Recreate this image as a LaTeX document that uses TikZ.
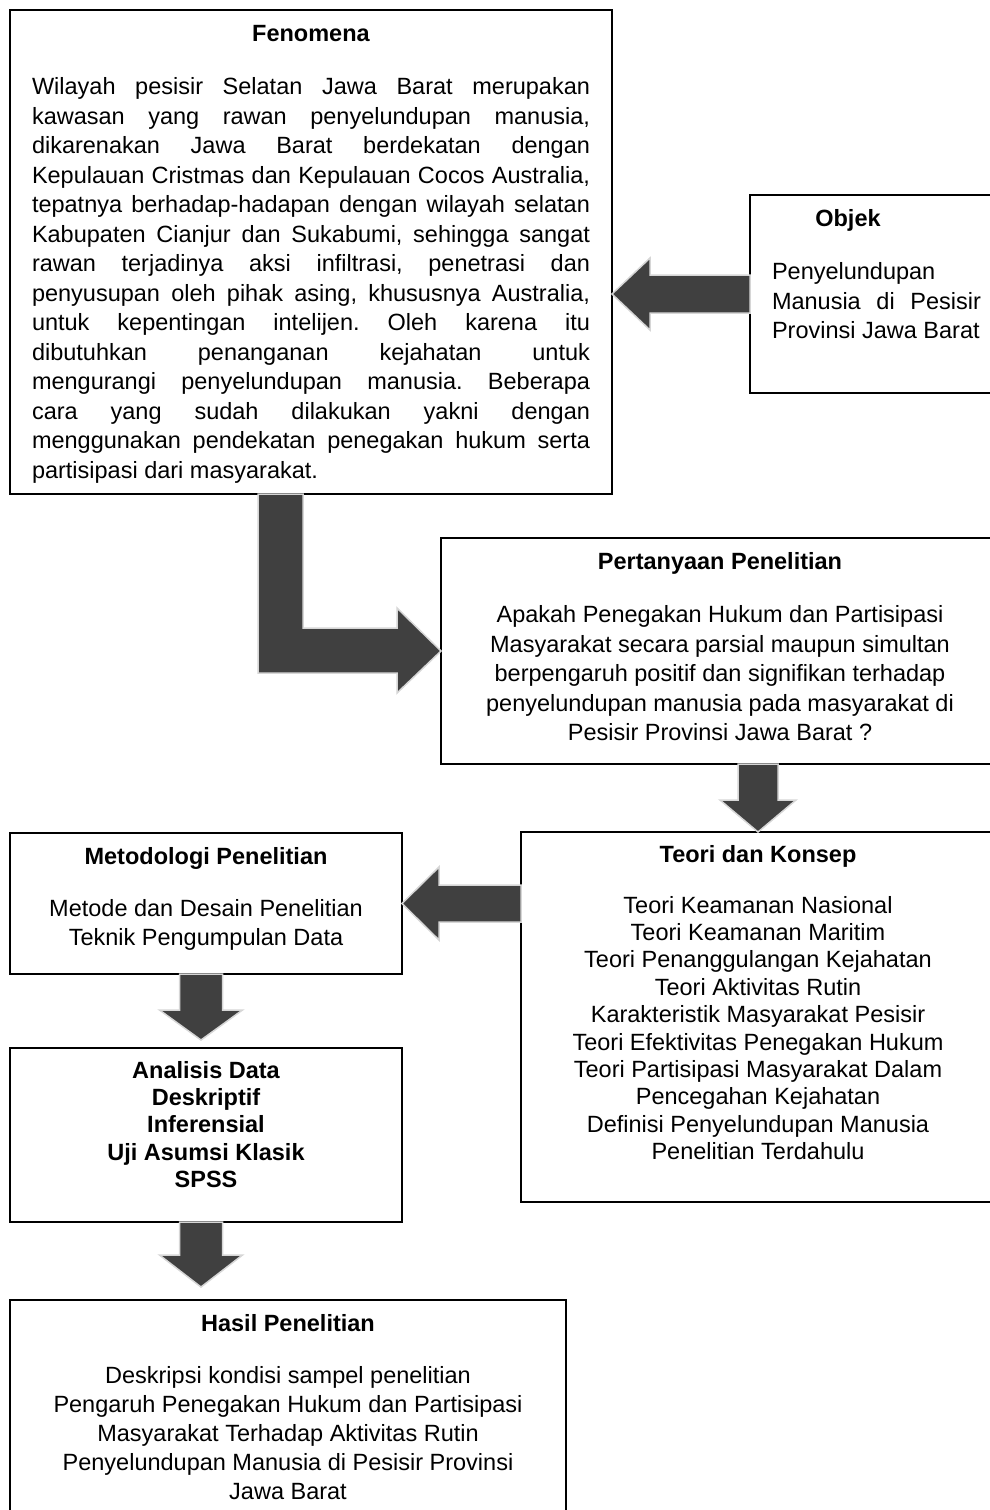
\documentclass[tikz,border=0pt]{standalone}
\usepackage{fontspec}
\setmainfont{Liberation Sans}
\usetikzlibrary{calc}
\definecolor{panahisi}{HTML}{404040}
\definecolor{panahtepi}{HTML}{D6D6D6}
% isi kotak: lebar teks, tinggi, judul, isi
\newcommand{\isikotak}[4]{\parbox[c][#2][t]{#1}{{\centering\strut\textbf{#3}\par}\vspace{23.5pt}#4}}
\frenchspacing

\begin{document}
\begin{tikzpicture}[x=1pt, y=-1pt,
  kotak/.style={draw, line width=2.8pt, inner xsep=0pt, inner ysep=11pt, outer sep=0pt,
    anchor=north west, font=\fontsize{23.5}{29.5}\selectfont},
  panah/.style={fill=panahisi, draw=panahtepi, line width=1.5pt, line join=miter}]
  \path[use as bounding box] (0,0) rectangle (990,1510);
  \clip (0,0) rectangle (990,1510);

  \node[kotak, minimum width=602pt] (fen) at (10,10) {\isikotak{558pt}{462pt}{Fenomena}{%
    \tolerance=10000 \hbadness=10000 \hyphenpenalty=10000
    Wilayah pesisir Selatan Jawa Barat merupakan\linebreak
    kawasan yang rawan penyelundupan manusia,\linebreak
    dikarenakan Jawa Barat berdekatan dengan\linebreak
    Kepulauan Cristmas dan Kepulauan Cocos Australia,\linebreak
    tepatnya berhadap-hadapan dengan wilayah selatan\linebreak
    Kabupaten Cianjur dan Sukabumi, sehingga sangat\linebreak
    rawan terjadinya aksi infiltrasi, penetrasi dan\linebreak
    penyusupan oleh pihak asing, khususnya Australia,\linebreak
    untuk kepentingan intelijen. Oleh karena itu\linebreak
    dibutuhkan penanganan kejahatan untuk\linebreak
    mengurangi penyelundupan manusia. Beberapa\linebreak
    cara yang sudah dilakukan yakni dengan\linebreak
    menggunakan pendekatan penegakan hukum serta\linebreak
    partisipasi dari masyarakat.}};
  \node[kotak, minimum width=253pt] (objek) at (750,195) {\isikotak{209pt}{176pt}{\hspace*{-57pt}Objek}{%
    \tolerance=10000 \hbadness=10000
    Penyelundupan\\
    Manusia di Pesisir\linebreak
    Provinsi Jawa Barat}};
  \node[kotak, minimum width=558pt] (pert) at (441,538) {\isikotak{530pt}{204pt}{Pertanyaan Penelitian}{%
    \centering
    Apakah Penegakan Hukum dan Partisipasi\\
    Masyarakat secara parsial maupun simultan\\
    berpengaruh positif dan signifikan terhadap\\
    penyelundupan manusia pada masyarakat di\\
    Pesisir Provinsi Jawa Barat ?}};
  \node[kotak, minimum width=474pt, font=\fontsize{23.5}{27.4}\selectfont] (teori) at (521,832) {\isikotak{450pt}{348pt}{Teori dan Konsep}{%
    \centering
    Teori Keamanan Nasional\\
    Teori Keamanan Maritim\\
    Teori Penanggulangan Kejahatan\\
    Teori Aktivitas Rutin\\
    Karakteristik Masyarakat Pesisir\\
    Teori Efektivitas Penegakan Hukum\\
    Teori Partisipasi Masyarakat Dalam\\
    Pencegahan Kejahatan\\
    Definisi Penyelundupan Manusia\\
    Penelitian Terdahulu}};
  \node[kotak, minimum width=392pt, font=\fontsize{23.5}{29}\selectfont] (metod) at (10,833) {\isikotak{370pt}{119pt}{Metodologi Penelitian}{%
    \centering
    Metode dan Desain Penelitian\\
    Teknik Pengumpulan Data}};
  \node[kotak, minimum width=392pt, font=\fontsize{23.5}{27.4}\selectfont] (anal) at (10,1048) {\parbox[c][152pt][t]{370pt}{\centering\bfseries
    \strut Analisis Data\\
    Deskriptif\\
    Inferensial\\
    Uji Asumsi Klasik\\
    SPSS}};
  \node[kotak, minimum width=556pt, font=\fontsize{23.5}{29}\selectfont] (hasil) at (10,1300) {\isikotak{530pt}{230pt}{Hasil Penelitian}{%
    \centering
    Deskripsi kondisi sampel penelitian\\
    Pengaruh Penegakan Hukum dan Partisipasi\\
    Masyarakat Terhadap Aktivitas Rutin\\
    Penyelundupan Manusia di Pesisir Provinsi\\
    Jawa Barat}};

  % panah blok
  \filldraw[panah] ($(objek.west)+(0,-19)$) -- ($(fen.east |- objek.west)+(38,-19)$) -- ++(0,-17)
    -- (fen.east |- objek.west) -- ++(38,36) -- ++(0,-17) -- ($(objek.west)+(0,19)$) -- cycle;
  \filldraw[panah] ($(fen.south)+(-53,0)$) -- ++(45,0) |- ($(pert.west)+(-44,-23)$) -- ++(0,-20)
    -- (pert.west) -- ++(-44,42) -- ++(0,-20) -| ($(fen.south)+(-53,0)$) -- cycle;
  \filldraw[panah] ($(teori.north |- pert.south)+(-20,0)$) -- ++(40,0) -- ($(teori.north)+(20,-32)$)
    -- ++(18,0) -- (teori.north) -- ++(-38,-32) -- ++(18,0) -- cycle;
  \filldraw[panah] ($(teori.west |- metod.east)+(0,-18.5)$) -- ($(metod.east)+(37,-18.5)$) -- ++(0,-18)
    -- (metod.east) -- ++(37,36.5) -- ++(0,-18) -- ($(teori.west |- metod.east)+(0,18.5)$) -- cycle;
  \filldraw[panah] ($(metod.south)+(-26.5,0)$) -- ++(43,0) |- ($(anal.north)+(16.5,-38)$) -- ++(20,0)
    -- ($(anal.north)+(-5,-8)$) -- ++(-41.5,-30) -- ++(20,0) -- cycle;
  \filldraw[panah] ($(anal.south)+(-26.5,0)$) -- ++(43,0) |- ($(anal.south |- hasil.north)+(16.5,-45)$) -- ++(20,0)
    -- ($(anal.south |- hasil.north)+(-5,-13)$) -- ++(-41.5,-32) -- ++(20,0) -- cycle;
\end{tikzpicture}
\end{document}
